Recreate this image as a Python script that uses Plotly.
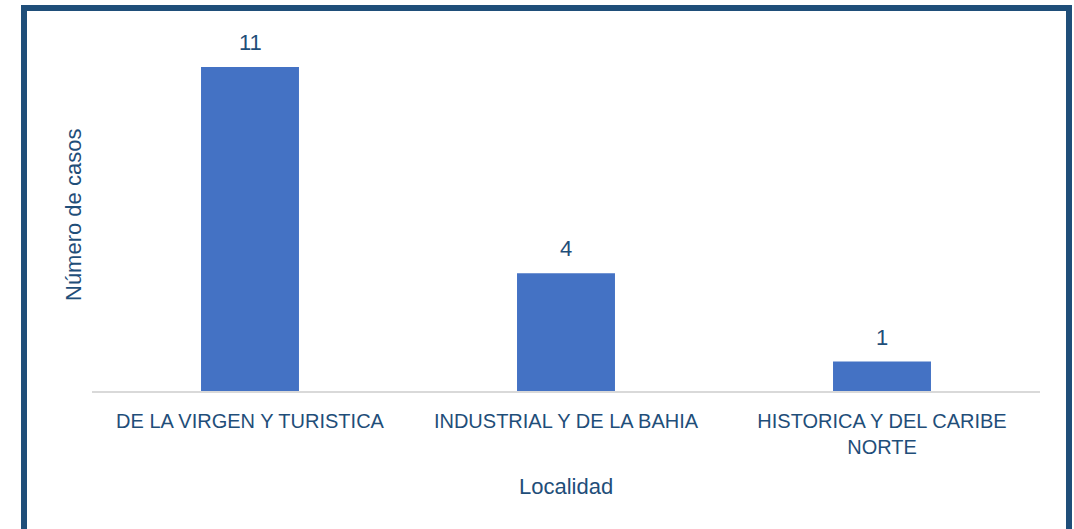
import plotly.graph_objects as go

categories = ["DE LA VIRGEN Y TURISTICA", "INDUSTRIAL Y DE LA BAHIA", "HISTORICA Y DEL CARIBE NORTE"]
tick_labels = ["DE LA VIRGEN Y TURISTICA", "INDUSTRIAL Y DE LA BAHIA", "HISTORICA Y DEL CARIBE<br>NORTE"]
values = [11, 4, 1]

FONT = "Liberation Sans, Arial, sans-serif"
TXT = "#1F4E79"
BAR = "#4472C4"

W, H = 1074, 529
ML, MR, MT, MB = 92, 34, 30, 138
pw = W - ML - MR
ph = H - MT - MB

def px_x(p):
    return (p - ML) / pw

def px_y(p):
    return (H - MB - p) / ph

fig = go.Figure()
fig.add_trace(go.Bar(
    x=categories, y=values, marker=dict(color=BAR, line=dict(width=0)),
    width=0.31, hoverinfo="skip",
))

for c, v in zip(categories, values):
    fig.add_annotation(x=c, y=v, text=str(v), showarrow=False, xref="x", yref="y",
                       yanchor="bottom", yshift=10,
                       font=dict(family=FONT, size=22, color=TXT))

fig.add_annotation(text="Número de casos", textangle=-90, showarrow=False,
                   xref="paper", yref="paper", x=px_x(73), y=px_y(215),
                   xanchor="center", yanchor="middle",
                   font=dict(family=FONT, size=22, color=TXT))
fig.add_annotation(text="Localidad", showarrow=False,
                   xref="paper", yref="paper", x=px_x(566), y=px_y(486),
                   xanchor="center", yanchor="middle",
                   font=dict(family=FONT, size=22, color=TXT))

fig.add_shape(type="rect", xref="paper", yref="paper",
              x0=px_x(24), x1=px_x(1069), y0=px_y(560), y1=px_y(8),
              line=dict(color=TXT, width=6), fillcolor="rgba(0,0,0,0)", layer="above")

fig.update_layout(
    width=W, height=H,
    margin=dict(l=ML, r=MR, t=MT, b=MB, pad=0, autoexpand=False),
    paper_bgcolor="white", plot_bgcolor="white",
    showlegend=False, bargap=0.69,
    xaxis=dict(tickmode="array", tickvals=categories, ticktext=tick_labels,
               tickangle=0, automargin=False, ticklabelstandoff=11,
               showline=True, linecolor="#D9D9D9", linewidth=2,
               ticks="", showgrid=False, zeroline=False,
               tickfont=dict(family=FONT, size=20, color=TXT)),
    yaxis=dict(range=[0, 12.26], visible=False, showgrid=False, zeroline=False),
)

fig.write_html("out.html", config={"displayModeBar": False},
               post_script="document.body.style.margin='0';document.body.style.overflow='hidden';")
